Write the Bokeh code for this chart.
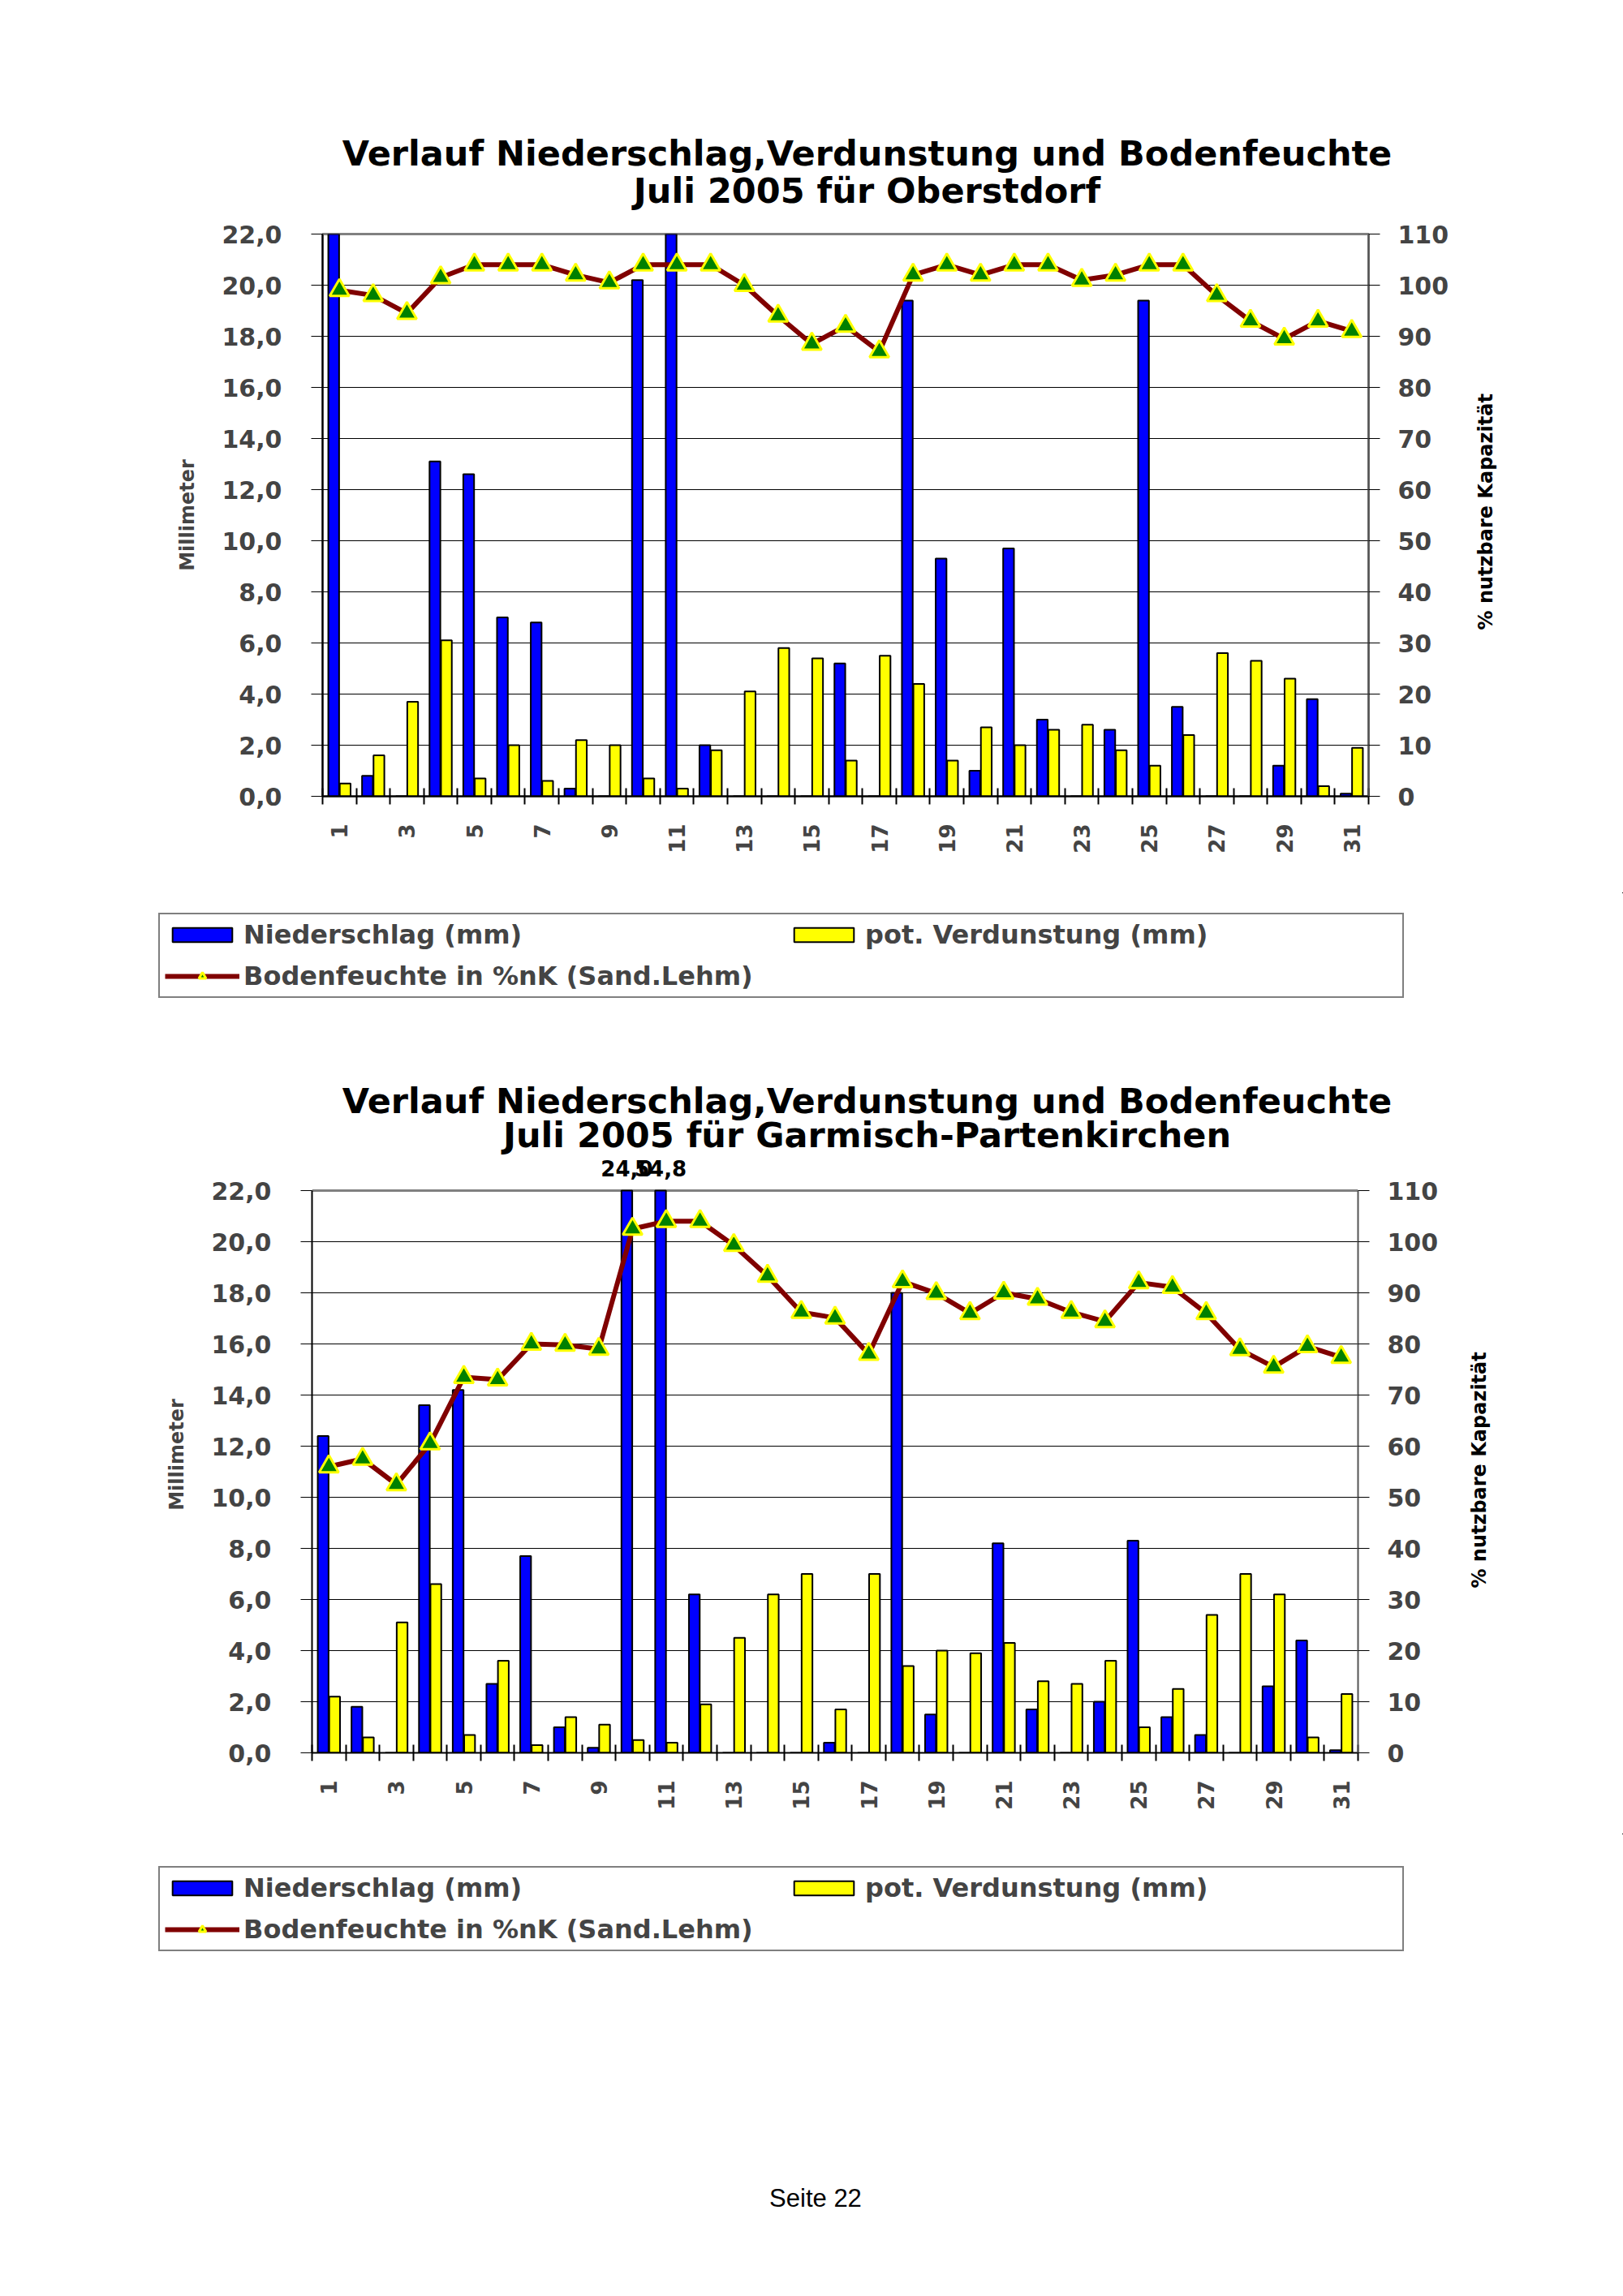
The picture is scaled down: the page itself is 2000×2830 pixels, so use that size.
from math import pi
from bokeh.plotting import figure
from bokeh.models import (Range1d, LinearAxis, FixedTicker, Legend, LegendItem,
                          Label, LabelSet, ColumnDataSource, Div, Span)
from bokeh.layouts import column, row
from bokeh.core.properties import value
from bokeh.embed import file_html
from bokeh.resources import INLINE

# ---------------- data ----------------
days = list(range(1, 32))
x_label_days = list(range(1, 32, 2))
mm_ticks = [0, 2, 4, 6, 8, 10, 12, 14, 16, 18, 20, 22]
mm_tick_labels = ["0,0", "2,0", "4,0", "6,0", "8,0", "10,0", "12,0", "14,0",
                  "16,0", "18,0", "20,0", "22,0"]
pct_ticks = [0, 10, 20, 30, 40, 50, 60, 70, 80, 90, 100, 110]

legend_labels = ["Niederschlag (mm)", "pot. Verdunstung (mm)",
                 "Bodenfeuchte in %nK (Sand.Lehm)"]
left_axis_label = "Millimeter"
right_axis_label = "% nutzbare Kapazität"
footer_text = "Seite 22"

# Oberstdorf
obe_title = ["Verlauf Niederschlag,Verdunstung und Bodenfeuchte",
             "Juli 2005 für Oberstdorf"]
obe_precip = [22.6, 0.8, 0.0, 13.1, 12.6, 7.0, 6.8, 0.3, 0.0, 20.2,
              23.0, 2.0, 0.0, 0.0, 0.0, 5.2, 0.0, 19.4, 9.3, 1.0,
              9.7, 3.0, 0.0, 2.6, 19.4, 3.5, 0.0, 0.0, 1.2, 3.8, 0.1]
obe_evap = [0.5, 1.6, 3.7, 6.1, 0.7, 2.0, 0.6, 2.2, 2.0, 0.7,
            0.3, 1.8, 4.1, 5.8, 5.4, 1.4, 5.5, 4.4, 1.4, 2.7,
            2.0, 2.6, 2.8, 1.8, 1.2, 2.4, 5.6, 5.3, 4.6, 0.4, 1.9]
obe_soil = [99, 98, 94.5, 101.5, 104, 104, 104, 102, 100.5, 104,
            104, 104, 100, 94, 88.5, 92, 87, 102, 104, 102,
            104, 104, 101, 102, 104, 104, 98, 93, 89.5, 93, 91]

# Garmisch-Partenkirchen
gap_title = ["Verlauf Niederschlag,Verdunstung und Bodenfeuchte",
             "Juli 2005 für Garmisch-Partenkirchen"]
gap_precip = [12.4, 1.8, 0.0, 13.6, 14.2, 2.7, 7.7, 1.0, 0.2, 24.0,
              54.8, 6.2, 0.0, 0.0, 0.0, 0.4, 0.0, 18.0, 1.5, 0.0,
              8.2, 1.7, 0.0, 2.0, 8.3, 1.4, 0.7, 0.0, 2.6, 4.4, 0.1]
gap_evap = [2.2, 0.6, 5.1, 6.6, 0.7, 3.6, 0.3, 1.4, 1.1, 0.5,
            0.4, 1.9, 4.5, 6.2, 7.0, 1.7, 7.0, 3.4, 4.0, 3.9,
            4.3, 2.8, 2.7, 3.6, 1.0, 2.5, 5.4, 7.0, 6.2, 0.6, 2.3]
gap_soil = [56, 57.5, 52.5, 60.5, 73.5, 73, 80, 79.8, 79, 102.5,
            104, 104, 99.3, 93.3, 86.2, 85.1, 78, 92.2, 89.9, 86,
            90, 88.8, 86.2, 84.4, 92, 91.1, 86, 78.9, 75.5, 79.5, 77.4]

FONT = "DejaVu Sans"
BLUE = "#0000FF"
YELLOW = "#FFFF00"
DARKRED = "#800000"
GREEN = "#008000"
MM_MAX = mm_ticks[-1]
PCT_MAX = pct_ticks[-1]
FRAME_W = 1289
FRAME_H = 693
BAR_SHIFT = 0.17
BAR_W = 0.32
PAGE_W = 2000


def blank_fig(width, height):
    q = figure(width=width, height=height, output_backend="svg",
               toolbar_location=None, tools="", title=None,
               x_axis_type=None, y_axis_type=None,
               x_range=Range1d(0, width), y_range=Range1d(0, height),
               min_border=0, outline_line_color=None)
    q.grid.visible = False
    return q


def make_sources(precip, evap, soil):
    return ColumnDataSource(dict(
        day=days,
        xb=[d - BAR_SHIFT for d in days],
        xy=[d + BAR_SHIFT for d in days],
        precip=[min(v, MM_MAX) for v in precip],
        evap=evap, soil=soil))


def add_series(p, src):
    rb = p.vbar(x="xb", top="precip", width=BAR_W, source=src,
                fill_color=BLUE, line_color="black", line_width=2)
    ry = p.vbar(x="xy", top="evap", width=BAR_W, source=src,
                fill_color=YELLOW, line_color="black", line_width=2)
    rl = p.line(x="day", y="soil", source=src, y_range_name="pct",
                line_color=DARKRED, line_width=6)
    rs = p.scatter(x="day", y="soil", source=src, y_range_name="pct",
                   marker="triangle", size=24, fill_color=GREEN,
                   line_color=YELLOW, line_width=3)
    return rb, ry, rl, rs


def make_title(lines, height, x_center, centers):
    q = blank_fig(PAGE_W, height)
    for txt, yc in zip(lines, centers):
        q.add_layout(Label(x=x_center, y=yc, text=txt, text_align="center",
                           text_baseline="middle", text_font=FONT,
                           text_font_style="bold", text_font_size="43px",
                           text_color="black"))
    return q


def make_chart(precip, evap, soil, b_left, b_right, b_top, b_bottom,
               headroom=0, label_over=False):
    fh = FRAME_H + headroom
    ymax = MM_MAX * fh / FRAME_H
    pmax = PCT_MAX * fh / FRAME_H
    p = figure(frame_width=FRAME_W, frame_height=fh, output_backend="svg",
               toolbar_location=None, tools="", title=None,
               x_range=Range1d(0.5, 31.5), y_range=Range1d(0, ymax),
               min_border_left=b_left, min_border_right=b_right,
               min_border_top=b_top, min_border_bottom=b_bottom)
    p.extra_y_ranges = {"pct": Range1d(0, pmax)}
    p.background_fill_color = "white"
    p.border_fill_color = "white"
    if headroom:
        p.outline_line_color = None
        p.add_layout(Span(location=MM_MAX, dimension="width",
                          line_color="#808080", line_width=3, level="underlay"))
    else:
        p.outline_line_color = "#808080"
        p.outline_line_width = 3

    src = make_sources(precip, evap, soil)
    add_series(p, src)

    # left axis
    ya = p.yaxis[0]
    ya.ticker = FixedTicker(ticks=mm_ticks)
    ya.bounds = (0, MM_MAX)
    ya.major_label_overrides = dict(zip(mm_ticks, mm_tick_labels))
    ya.axis_label = left_axis_label
    ya.axis_label_text_font = FONT
    ya.axis_label_text_font_style = "bold"
    ya.axis_label_text_font_size = "24px"
    ya.axis_label_standoff = 25
    ya.major_label_text_font = FONT
    ya.major_label_text_font_style = "bold"
    ya.major_label_text_font_size = "30px"
    ya.major_label_standoff = 36
    ya.major_tick_out = 14
    ya.major_tick_in = 0
    ya.minor_tick_out = 0
    ya.minor_tick_in = 0
    ya.axis_line_color = "black"
    ya.axis_line_width = 2
    ya.major_tick_line_color = "black"
    ya.major_tick_line_width = 1

    p.ygrid[0].grid_line_color = "black"
    p.ygrid[0].grid_line_width = 1
    p.xgrid[0].visible = False

    # right axis
    ra = LinearAxis(y_range_name="pct", ticker=FixedTicker(ticks=pct_ticks))
    ra.bounds = (0, PCT_MAX)
    ra.major_label_text_font = FONT
    ra.major_label_text_font_style = "bold"
    ra.major_label_text_font_size = "30px"
    ra.major_label_standoff = 22
    ra.major_tick_out = 14
    ra.major_tick_in = 0
    ra.minor_tick_out = 0
    ra.minor_tick_in = 0
    ra.axis_line_color = "#555555"
    ra.axis_line_width = 2
    ra.major_tick_line_color = "black"
    p.add_layout(ra, "right")

    # x axis
    xa = p.xaxis[0]
    xa.ticker = FixedTicker(ticks=x_label_days,
                            minor_ticks=[d - 0.5 for d in days] + [days[-1] + 0.5])
    xa.major_tick_out = 0
    xa.major_tick_in = 0
    xa.minor_tick_out = 10
    xa.minor_tick_in = 10
    xa.minor_tick_line_color = "black"
    xa.minor_tick_line_width = 2
    xa.axis_line_color = "black"
    xa.axis_line_width = 2
    xa.major_label_orientation = pi / 2
    xa.major_label_standoff = 24
    xa.major_label_text_font = FONT
    xa.major_label_text_font_style = "bold"
    xa.major_label_text_font_size = "26px"

    # values beyond the axis maximum
    if label_over:
        over = [(d - BAR_SHIFT, v) for d, v in zip(days, precip) if v > MM_MAX]
        lsrc = ColumnDataSource(dict(
            x=[o[0] for o in over], y=[MM_MAX for _ in over],
            t=[f"{o[1]:.1f}".replace(".", ",") for o in over]))
        p.add_layout(LabelSet(x="x", y="y", text="t", source=lsrc,
                              y_offset=18, text_align="center",
                              text_baseline="bottom", text_font=value(FONT),
                              text_font_style="bold", text_font_size="26px",
                              text_color="black"))
    return p, src


def make_side_label(height, width, y_from_bottom, x_pos):
    q = blank_fig(width, height)
    q.add_layout(Label(x=x_pos, y=y_from_bottom, text=right_axis_label,
                       angle=pi / 2, text_align="center",
                       text_baseline="middle", text_font=FONT,
                       text_font_style="bold", text_font_size="24px",
                       text_color="black"))
    return q


def make_legend(src, height, loc):
    q = figure(width=PAGE_W, height=height, output_backend="svg",
               toolbar_location=None, tools="", title=None,
               x_axis_type=None, y_axis_type=None,
               x_range=Range1d(-3, -2), y_range=Range1d(-3, -2),
               min_border=0, outline_line_color=None)
    q.extra_y_ranges = {"pct": Range1d(-3, -2)}
    q.grid.visible = False
    rb, ry, rl, rs = add_series(q, src)
    legend = Legend(items=[
        LegendItem(label=legend_labels[0], renderers=[rb]),
        LegendItem(label=legend_labels[1], renderers=[ry]),
        LegendItem(label=legend_labels[2], renderers=[rl, rs]),
    ], location=loc, orientation="horizontal", ncols=2,
        margin=0, padding=6, spacing=13, label_standoff=5,
        glyph_width=92, glyph_height=22, label_width=656, label_height=30,
        label_text_font=FONT, label_text_font_style="bold",
        label_text_font_size="32px", border_line_color="black",
        border_line_width=2, background_fill_color="white",
        background_fill_alpha=1.0)
    q.add_layout(legend, "center")
    return q


# top block (page y 0 .. 1290)
t1 = make_title(obe_title, 270, 1068, (81.5, 35.5))
p1, s1 = make_chart(obe_precip, obe_evap, obe_soil,
                    b_left=397, b_right=110, b_top=18, b_bottom=119)
lab1 = make_side_label(830, 64, 420, 34)
leg1 = make_legend(s1, 190, (195, 60))

# bottom block (page y 1290 .. 2440)
t2 = make_title(gap_title, 135, 1068, (68.5, 27))
p2, s2 = make_chart(gap_precip, gap_evap, gap_soil,
                    b_left=384, b_right=115, b_top=0, b_bottom=100,
                    headroom=42, label_over=True)
lab2 = make_side_label(835, 64, 396, 34)
leg2 = make_legend(s2, 180, (195, 35))

footer = Div(text='<div style="width:2000px;text-align:center;padding-top:243px;'
                  'font-family:\'Liberation Sans\',Arial,sans-serif;font-size:31px;'
                  'color:#000;">' + footer_text + '</div>',
             width=PAGE_W, height=390)

page = column(t1, row(p1, lab1), leg1, t2, row(p2, lab2), leg2, footer,
              spacing=0)
open("out.html", "w").write(file_html(page, INLINE))
